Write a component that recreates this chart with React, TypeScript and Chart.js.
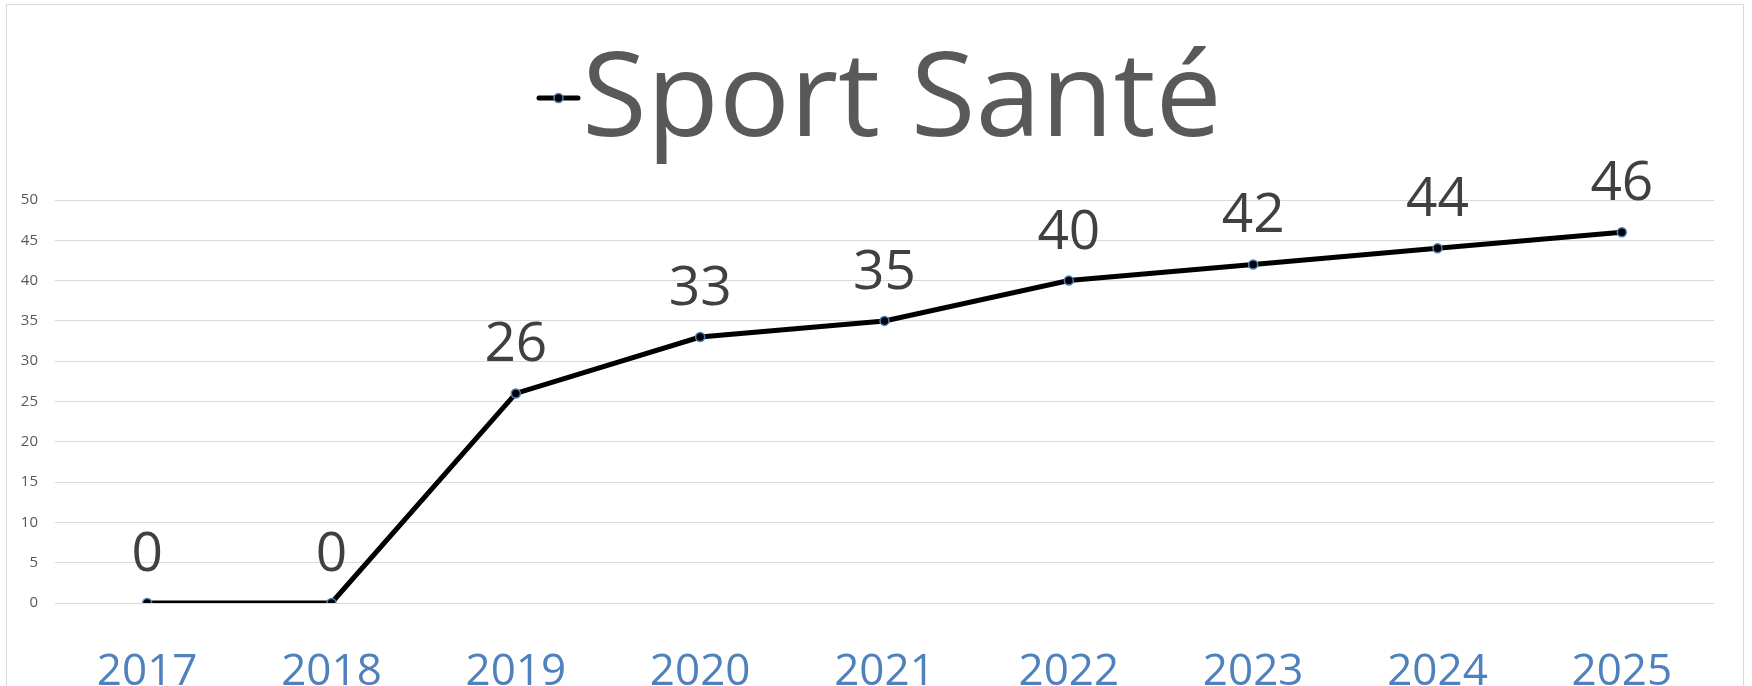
import React, { useEffect, useRef } from "react";
import { Chart, registerables } from "chart.js";

Chart.register(...registerables);

const years = ["2017", "2018", "2019", "2020", "2021", "2022", "2023", "2024", "2025"];
const values = [0, 0, 26, 33, 35, 40, 42, 44, 46];
const seriesName = "Sport Santé";
const yMin = 0;
const yMax = 50;
const yStep = 5;

const FONT = "'Open Sans', 'Noto Sans', sans-serif";

const decorPlugin = {
  id: "decor",
  beforeDraw(chart: any) {
    const ctx = chart.ctx;
    ctx.save();
    ctx.fillStyle = "#ffffff";
    ctx.fillRect(0, 0, chart.width, chart.height);
    ctx.strokeStyle = "#D9D9D9";
    ctx.lineWidth = 1;
    ctx.strokeRect(6.5, 4.5, 1737, 800);
    ctx.restore();
  },
  afterDatasetsDraw(chart: any) {
    const ctx = chart.ctx;
    const meta = chart.getDatasetMeta(0);
    ctx.save();
    ctx.font = `55px ${FONT}`;
    ctx.fillStyle = "#404040";
    ctx.textAlign = "center";
    ctx.textBaseline = "alphabetic";
    meta.data.forEach((pt: any, i: number) => {
      ctx.fillText(String(values[i]), pt.x, pt.y - 32);
    });
    ctx.restore();
  },
  afterDraw(chart: any) {
    const ctx = chart.ctx;
    ctx.save();
    // legend marker
    ctx.strokeStyle = "#000000";
    ctx.lineWidth = 5;
    ctx.lineCap = "round";
    ctx.beginPath();
    ctx.moveTo(539, 98);
    ctx.lineTo(578, 98);
    ctx.stroke();
    ctx.beginPath();
    ctx.arc(558.5, 98, 4.5, 0, Math.PI * 2);
    ctx.fillStyle = "#000000";
    ctx.fill();
    ctx.lineWidth = 1.5;
    ctx.strokeStyle = "#4F81BD";
    ctx.stroke();
    // legend text
    ctx.font = `118px ${FONT}`;
    ctx.fillStyle = "#595959";
    ctx.textAlign = "left";
    ctx.textBaseline = "alphabetic";
    ctx.fillText(seriesName, 582, 136);
    ctx.restore();
  },
};

export default function App() {
  const ref = useRef<HTMLCanvasElement | null>(null);

  useEffect(() => {
    if (!ref.current) return;
    const chart = new Chart(ref.current, {
      type: "line",
      data: {
        labels: years,
        datasets: [
          {
            label: seriesName,
            data: values,
            borderColor: "#000000",
            borderWidth: 5,
            pointRadius: 4.5,
            pointBackgroundColor: "#000000",
            pointBorderColor: "#4F81BD",
            pointBorderWidth: 1.5,
            tension: 0,
            fill: false,
          },
        ],
      },
      options: {
        responsive: false,
        animation: false,
        layout: { padding: { top: 200, right: 38, left: 0, bottom: 0 } },
        plugins: {
          legend: { display: false },
          title: { display: false },
          tooltip: { enabled: false },
        },
        scales: {
          x: {
            offset: true,
            grid: { display: false },
            border: { display: false },
            ticks: {
              color: "#4F81BD",
              font: { family: FONT, size: 44 },
              padding: 35,
              maxRotation: 0,
            },
            afterFit(scale: any) {
              scale.height = 83;
            },
          },
          y: {
            min: yMin,
            max: yMax,
            grid: { color: "#D9D9D9", lineWidth: 1, drawTicks: false },
            border: { display: false },
            ticks: {
              stepSize: yStep,
              color: "#595959",
              font: { family: FONT, size: 15 },
              padding: 17,
            },
            afterFit(scale: any) {
              scale.width = 55;
            },
          },
        },
      },
      plugins: [decorPlugin],
    });
    return () => chart.destroy();
  }, []);

  return (
    <div style={{ position: "fixed", left: 0, top: 0, width: 1752, height: 686, overflow: "hidden", background: "#fff" }}>
      <canvas ref={ref} width={1752} height={686} style={{ display: "block", width: 1752, height: 686 }} />
    </div>
  );
}
